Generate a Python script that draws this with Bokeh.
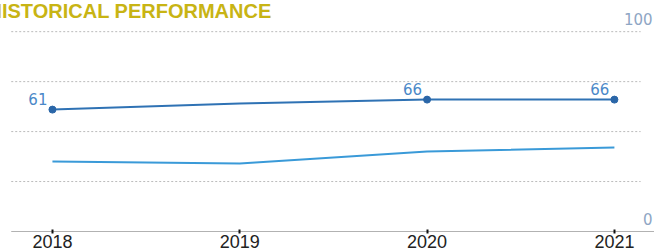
from bokeh.plotting import figure
from bokeh.models import ColumnDataSource, Range1d, FixedTicker
from bokeh.core.properties import value
from bokeh.embed import file_html
from bokeh.resources import INLINE

# ---- data ----
years = [2018, 2019, 2020, 2021]
series_top = [61, 64, 66, 66]
series_bottom = [35, 34, 40, 42]
labeled = [True, False, True, True]
y_ticks = [0, 100]
grid_ticks = [25, 50, 75, 100]
title_text = "HISTORICAL PERFORMANCE"

# plotting window (x in years, y in score)
XS, XE = 2017.68, 2021.214   # whole canvas width
X0, X1 = 2017.78, 2021.14    # grid / data area
YS, YE = 0, 119.6

p = figure(width=662, height=258, output_backend="svg", toolbar_location=None,
           x_range=Range1d(XS, XE), y_range=Range1d(YS, YE),
           min_border_left=0, min_border_right=0, min_border_top=0, min_border_bottom=0)
p.styles = {"margin": "-8px"}
p.outline_line_color = None
p.background_fill_color = "white"
p.border_fill_color = "white"
p.xgrid.visible = False
p.ygrid.visible = False

src_top = ColumnDataSource(dict(x=years, y=series_top))
src_bot = ColumnDataSource(dict(x=years, y=series_bottom))
pts = ColumnDataSource(dict(
    x=[x for x, l in zip(years, labeled) if l],
    y=[y for y, l in zip(series_top, labeled) if l],
    t=[str(y) for y, l in zip(series_top, labeled) if l]))

# dotted horizontal guides
gsrc = ColumnDataSource(dict(x0=[X0] * len(grid_ticks), x1=[X1] * len(grid_ticks), y=grid_ticks))
p.segment(x0="x0", y0="y", x1="x1", y1="y", source=gsrc, line_color="#bbbbbb",
          line_dash="2 2", line_width=1)
# baseline
p.segment(x0=[X0], y0=[0], x1=[XE], y1=[0], line_color="#666666", line_width=1)

p.line("x", "y", source=src_bot, line_color="#3a9ad8", line_width=2)
p.line("x", "y", source=src_top, line_color="#2f72b4", line_width=2)
p.scatter("x", "y", source=pts, size=7, color="#2a66a8")
p.text("x", "y", text="t", source=pts, text_align="right", text_baseline="bottom",
       x_offset=-5, y_offset=-5, text_color="#4a88c8", text_font=value("DejaVu Sans"),
       text_font_size="15px")

# right-side scale labels
ysrc = ColumnDataSource(dict(x=[X1] * len(y_ticks), y=y_ticks, t=[str(v) for v in y_ticks]))
p.text("x", "y", text="t", source=ysrc, text_align="right", text_baseline="bottom",
       x_offset=12, y_offset=-7, text_color="#8ea6c4", text_font=value("DejaVu Sans"),
       text_font_size="15px")

# title
tsrc = ColumnDataSource(dict(x=[XS], y=[YE], t=[title_text]))
p.text("x", "y", text="t", source=tsrc, text_align="left", text_baseline="alphabetic",
       x_offset=-5, y_offset=18, text_color="#c8b414", text_font=value("Liberation Sans"),
       text_font_style="bold", text_font_size="20px")

# x axis
p.yaxis.visible = False
xa = p.xaxis[0]
xa.ticker = FixedTicker(ticks=years)
xa.axis_line_color = None
xa.major_tick_in = 2
xa.major_tick_out = 2
xa.major_tick_line_width = 2
xa.major_tick_line_color = "#111111"
xa.minor_tick_line_color = None
xa.major_label_standoff = 1
xa.major_label_text_font = "Liberation Sans"
xa.major_label_text_font_size = "18px"
xa.major_label_text_color = "#222222"

open("out.html", "w").write(file_html(p, INLINE))
